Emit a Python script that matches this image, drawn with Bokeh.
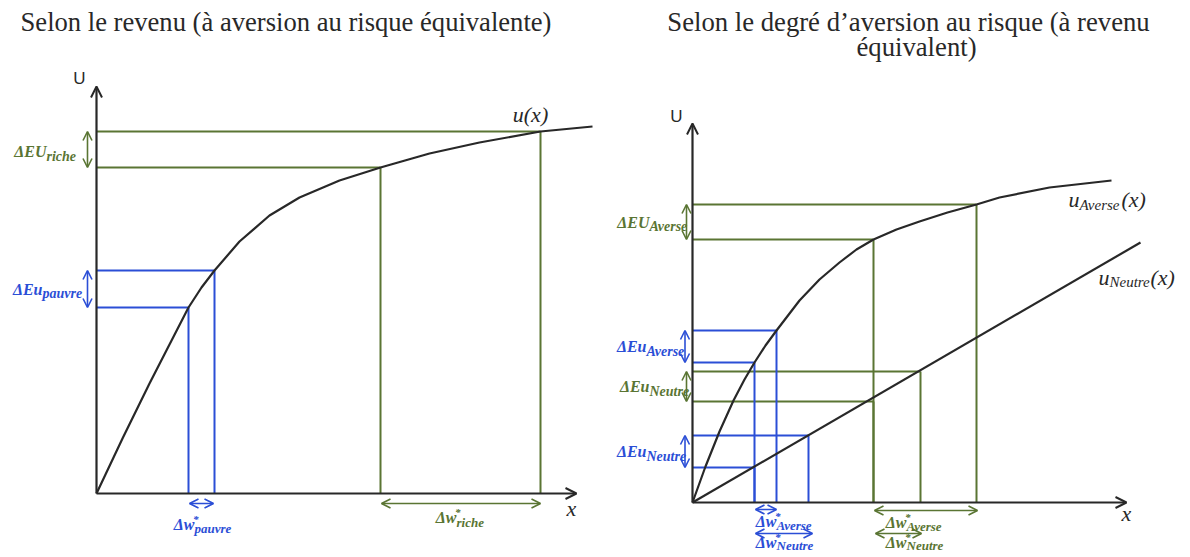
from bokeh.plotting import figure
from bokeh.models import Range1d, Arrow, OpenHead
from bokeh.layouts import row
from bokeh.core.properties import value
from bokeh.embed import file_html
from bokeh.resources import INLINE

GREEN = "#5A7533"
BLUE = "#2B4ED6"
INK = "#282828"
SERIF = value("Liberation Serif")
SANS = value("Liberation Sans")

# ---------------- left panel: same risk aversion, different wealth ----------------
left_title = "Selon le revenu (à aversion au risque équivalente)"
left_curve_x = [0.0, 2.6, 5.3, 7.3, 9.2, 10.5, 11.8, 14.3, 17.3, 20.3, 24.3, 28.4, 33.3, 38.3, 44.4, 49.6]
left_curve_u = [0.0, 5.5, 11.0, 14.9, 18.6, 20.6, 22.3, 25.2, 27.8, 29.6, 31.3, 32.6, 34.0, 35.1, 36.2, 36.7]
w_pauvre = [9.2, 11.8]
u_pauvre = [18.6, 22.3]
w_riche = [28.4, 44.4]
u_riche = [32.6, 36.2]
left_x_max = 48.0
left_u_max = 40.7

# ---------------- right panel: same wealth, different risk aversion ----------------
right_title = ["Selon le degré d’aversion au risque (à revenu", "équivalent)"]
averse_x = [0.0, 1.3, 2.7, 4.1, 5.2, 6.2, 7.3, 8.4, 10.7, 12.7, 14.7, 16.4, 18.1, 20.4, 22.7, 25.5, 28.4, 30.7, 35.7, 41.9]
averse_u = [0.0, 3.6, 7.1, 10.2, 12.3, 14.0, 15.7, 17.2, 20.2, 22.3, 24.0, 25.3, 26.3, 27.3, 28.1, 29.0, 29.8, 30.5, 31.5, 32.2]
neutre_x = [0.0, 44.8]
neutre_u = [0.0, 26.0]
w_bleu_averse = [6.2, 8.4]
u_bleu_averse = [14.0, 17.2]
w_bleu_neutre = [6.2, 11.6]
u_bleu_neutre = [3.5, 6.7]
w_vert_averse = [18.1, 28.4]
u_vert_averse = [26.3, 29.8]
w_vert_neutre = [18.1, 22.8]
u_vert_neutre = [10.1, 13.1]
right_x_max = 43.4
right_u_max = 37.9


def make_fig(width, height, xr, yr):
    p = figure(width=width, height=height, x_range=Range1d(*xr), y_range=Range1d(*yr),
               output_backend="svg", toolbar_location=None, x_axis_type=None,
               y_axis_type=None, min_border=0)
    p.outline_line_color = None
    p.background_fill_color = "white"
    p.border_fill_color = "white"
    return p


def axes(p, xmax, umax):
    for (x1, y1) in [(xmax, 0), (0, umax)]:
        p.add_layout(Arrow(end=OpenHead(size=11, line_width=2, line_color=INK),
                           x_start=0, y_start=0, x_end=x1, y_end=y1,
                           line_color=INK, line_width=2.2))


def guides(p, w, u, color):
    zeros = [0.0] * len(w)
    p.segment(x0=zeros, y0=u, x1=w, y1=u, line_color=color, line_width=2)
    p.segment(x0=w, y0=u, x1=w, y1=zeros, line_color=color, line_width=2)


def darrow(p, x0, y0, x1, y1, color, size=9):
    p.add_layout(Arrow(start=OpenHead(size=size, line_width=1.6, line_color=color),
                       end=OpenHead(size=size, line_width=1.6, line_color=color),
                       x_start=x0, y_start=y0, x_end=x1, y_end=y1,
                       line_color=color, line_width=1.6))


def txt(p, x, y, s, size, color=INK, font=SERIF, style="normal", align="center"):
    p.text(x=[x], y=[y], text=[s], text_align=align, text_baseline="middle",
           text_font=font, text_font_size=f"{size}px", text_font_style=style,
           text_color=color)


def delta_label(p, x, y, main, sub, color, sup=False, main_size=16, sub_size=14,
                sub_dy=-0.45, sup_dy=0.6):
    txt(p, x, y, main, main_size, color, style="bold italic", align="right")
    txt(p, x, y + sub_dy, sub, sub_size, color, style="bold italic", align="left")
    if sup:
        txt(p, x - 0.15, y + sup_dy, "*", 11, color, style="bold italic", align="left")


# ================= LEFT =================
pl = make_fig(602, 554, (-9.6, 50.6), (-6.1, 49.3))
guides(pl, w_pauvre, u_pauvre, BLUE)
guides(pl, w_riche, u_riche, GREEN)
pl.line(left_curve_x, left_curve_u, line_color=INK, line_width=2.2, line_join="round")
axes(pl, left_x_max, left_u_max)

darrow(pl, -0.9, u_riche[0], -0.9, u_riche[1], GREEN)
darrow(pl, -0.9, u_pauvre[0], -0.9, u_pauvre[1], BLUE)
darrow(pl, w_pauvre[0] + 0.1, -1.0, w_pauvre[1] - 0.1, -1.0, BLUE)
darrow(pl, w_riche[0] + 0.1, -1.0, w_riche[1], -1.0, GREEN)

delta_label(pl, -5.0, sum(u_riche) / 2 - 0.2, "ΔEU", "riche", GREEN)
delta_label(pl, -5.4, sum(u_pauvre) / 2, "ΔEu", "pauvre", BLUE)
delta_label(pl, 9.8, -3.1, "Δw", "pauvre", BLUE, sup=True, sub_size=13, sub_dy=-0.4)
delta_label(pl, 36.0, -2.4, "Δw", "riche", GREEN, sup=True, sub_size=13, sub_dy=-0.45)

txt(pl, 18.95, 47.2, left_title, 26.6)
txt(pl, -1.7, 41.5, "U", 17, font=SANS)
txt(pl, 47.5, -1.45, "x", 22, style="italic")
txt(pl, 43.4, 37.9, "u(x)", 22, style="italic")

# ================= RIGHT =================
pr = make_fig(580, 554, (-9.0, 49.0), (-5.2, 50.2))
guides(pr, w_vert_averse, u_vert_averse, GREEN)
guides(pr, w_vert_neutre, u_vert_neutre, GREEN)
guides(pr, w_bleu_averse, u_bleu_averse, BLUE)
guides(pr, w_bleu_neutre, u_bleu_neutre, BLUE)
pr.line(averse_x, averse_u, line_color=INK, line_width=2.2, line_join="round")
pr.line(neutre_x, neutre_u, line_color=INK, line_width=2.2)
axes(pr, right_x_max, right_u_max)

darrow(pr, -0.6, u_vert_averse[0], -0.6, u_vert_averse[1], GREEN)
darrow(pr, -0.75, u_bleu_averse[0], -0.75, u_bleu_averse[1], BLUE)
darrow(pr, -0.6, u_vert_neutre[0], -0.6, u_vert_neutre[1], GREEN)
darrow(pr, -0.75, u_bleu_neutre[0], -0.75, u_bleu_neutre[1], BLUE)

darrow(pr, w_bleu_averse[0] + 0.1, -0.7, w_bleu_averse[1], -0.7, BLUE)
darrow(pr, w_bleu_neutre[0] + 0.1, -3.1, w_bleu_neutre[1] + 0.4, -3.1, BLUE)
darrow(pr, w_vert_averse[0] + 0.1, -0.8, w_vert_averse[1] + 0.1, -0.8, GREEN)
darrow(pr, w_vert_neutre[0] + 0.2, -3.1, w_vert_neutre[1] + 0.1, -3.1, GREEN)

delta_label(pr, -4.3, sum(u_vert_averse) / 2, "ΔEU", "Averse", GREEN)
delta_label(pr, -4.6, sum(u_bleu_averse) / 2, "ΔEu", "Averse", BLUE)
delta_label(pr, -4.3, sum(u_vert_neutre) / 2, "ΔEu", "Neutre", GREEN)
delta_label(pr, -4.6, sum(u_bleu_neutre) / 2, "ΔEu", "Neutre", BLUE)

delta_label(pr, 8.4, -1.9, "Δw", "Averse", BLUE, sup=True, sub_size=13, sub_dy=-0.35)
delta_label(pr, 8.4, -4.0, "Δw", "Neutre", BLUE, sup=True, sub_size=13, sub_dy=-0.3)
delta_label(pr, 21.4, -2.0, "Δw", "Averse", GREEN, sup=True, sub_size=13, sub_dy=-0.35)
delta_label(pr, 21.4, -4.0, "Δw", "Neutre", GREEN, sup=True, sub_size=13, sub_dy=-0.3)

txt(pr, 21.6, 48.1, right_title[0], 26.7)
txt(pr, 22.4, 45.6, right_title[1], 26.7)
txt(pr, -1.6, 38.6, "U", 17, font=SANS)
txt(pr, 43.4, -1.05, "x", 22, style="italic")

# curve labels u_Averse(x), u_Neutre(x)
txt(pr, 38.7, 30.3, "u", 22, style="italic", align="right")
txt(pr, 38.7, 29.8, "Averse", 15, style="italic", align="left")
txt(pr, 42.9, 30.3, "(x)", 22, style="italic", align="left")
txt(pr, 41.7, 22.5, "u", 22, style="italic", align="right")
txt(pr, 41.7, 22.05, "Neutre", 15, style="italic", align="left")
txt(pr, 45.8, 22.5, "(x)", 22, style="italic", align="left")

layout = row(pl, pr)
with open("out.html", "w") as f:
    f.write(file_html(layout, INLINE))
